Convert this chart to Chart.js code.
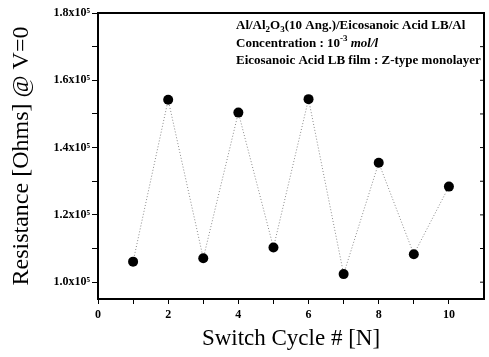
<!DOCTYPE html>
<html><head><meta charset="utf-8">
<script src="https://cdn.jsdelivr.net/npm/chart.js@4/dist/chart.umd.min.js"></script>
<style>html,body{margin:0;padding:0;background:#fff}canvas{display:block}</style>
</head><body>
<canvas id="c" width="489" height="357"></canvas>
<script>
const cycles = [1,2,3,4,5,6,7,8,9,10];
const resistance = [106100,154200,107100,150400,110300,154400,102400,135500,108300,128400];
const xTickValues = [0,1,2,3,4,5,6,7,8,9,10];
const yTickValues = [100000,110000,120000,130000,140000,150000,160000,170000,180000];
const xTitle = 'Switch Cycle # [N]';
const yTitle = 'Resistance [Ohms] @ V=0';

const SERIF = '"Liberation Serif", "DejaVu Serif", serif';

const frame = {
  id:'frame',
  afterDraw(chart){
    const {ctx, chartArea:a, scales} = chart;
    ctx.save();
    ctx.strokeStyle='#000';
    ctx.lineWidth=2;
    ctx.strokeRect(a.left, a.top, a.right-a.left, a.bottom-a.top);
    ctx.lineWidth=1;
    yTickValues.forEach(v=>{
      const y = scales.y.getPixelForValue(v);
      ctx.beginPath(); ctx.moveTo(a.right, y); ctx.lineTo(a.right-4, y); ctx.stroke();
    });
    ctx.fillStyle='#000';
    ctx.textBaseline='alphabetic';
    const big = 'bold 13px '+SERIF, small='bold 9px '+SERIF, ital='italic bold 13px '+SERIF;
    function seq(x, y, parts){
      parts.forEach(p=>{
        ctx.font = p.f;
        ctx.fillText(p.t, x, y + (p.dy||0));
        x += ctx.measureText(p.t).width;
      });
    }
    const x0 = 236;
    seq(x0, 29, [{t:'Al/Al',f:big},{t:'2',f:small,dy:3},{t:'O',f:big},{t:'3',f:small,dy:3},{t:'(10 Ang.)/Eicosanoic Acid LB/Al',f:big}]);
    seq(x0, 47, [{t:'Concentration : 10',f:big},{t:'-3',f:small,dy:-6},{t:' ',f:big},{t:'mol/l',f:ital}]);
    seq(x0, 64, [{t:'Eicosanoic Acid LB film : Z-type monolayer',f:big}]);
    ctx.restore();
  }
};

new Chart(document.getElementById('c'), {
  type:'line',
  data:{
    datasets:[{
      data: cycles.map((c,i)=>({x:c, y:resistance[i]})),
      borderColor:'#8a8a8a',
      borderWidth:1,
      borderDash:[1,2],
      pointRadius:5,
      pointBackgroundColor:'#000',
      pointBorderColor:'#000',
      pointBorderWidth:0,
      tension:0,
      fill:false
    }]
  },
  options:{
    responsive:false,
    animation:false,
    devicePixelRatio:1,
    layout:{padding:{top:13,right:2,left:0,bottom:0}},
    plugins:{legend:{display:false},tooltip:{enabled:false}},
    scales:{
      x:{
        type:'linear', min:0, max:11,
        afterBuildTicks:s=>{s.ticks = xTickValues.map(v=>({value:v}));},
        afterFit:s=>{s.height=58;},
        ticks:{callback:v=> v%2===0 ? String(v) : '', color:'#000', font:{family:SERIF, weight:'bold', size:12}, padding:4, maxRotation:0, autoSkip:false},
        grid:{display:true, drawOnChartArea:false, drawTicks:true, tickLength:5, color:'#000', lineWidth:1},
        border:{display:true, color:'#000', width:2},
        title:{display:true, text:xTitle, color:'#000', font:{family:SERIF, size:23, weight:'normal'}, padding:{top:0,bottom:4}}
      },
      y:{
        type:'linear', min:95000, max:180000,
        afterBuildTicks:s=>{s.ticks = yTickValues.map(v=>({value:v}));},
        afterFit:s=>{s.width=98;},
        ticks:{callback:v=> v%20000===0 ? (v/1e5).toFixed(1)+'x10\u2075' : '', color:'#000', font:{family:SERIF, weight:'bold', size:12}, padding:2, autoSkip:false},
        grid:{display:true, drawOnChartArea:false, drawTicks:true, tickLength:6, color:'#000', lineWidth:1},
        border:{display:true, color:'#000', width:2},
        title:{display:true, text:yTitle, color:'#000', font:{family:SERIF, size:24, weight:'normal'}, padding:{top:7,bottom:0}}
      }
    }
  },
  plugins:[frame]
});
</script>
</body></html>
